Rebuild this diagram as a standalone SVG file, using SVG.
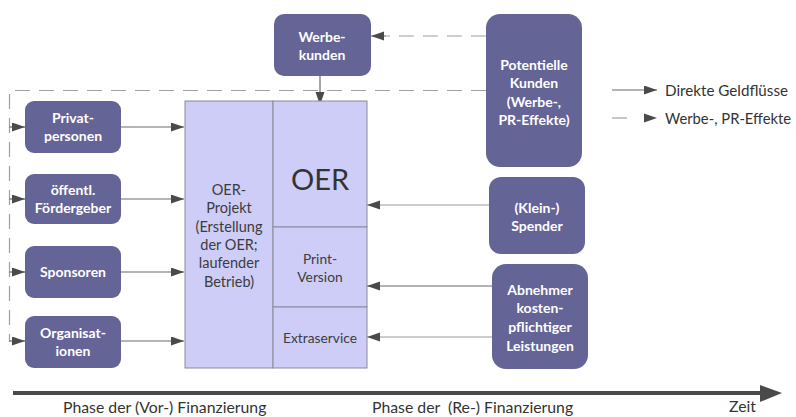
<svg xmlns="http://www.w3.org/2000/svg" width="796" height="417" viewBox="0 0 796 417">
<defs>
<style>
.box{fill:#656497;stroke:none}
.bt{font-family:Lato,"Open Sans","Liberation Sans",sans-serif;font-weight:bold;font-size:14px;fill:#ffffff;text-anchor:middle}
.lp{fill:#cdcdf8;stroke:#8a8a9a;stroke-width:1}
.lt{font-family:Lato,"Open Sans","Liberation Sans",sans-serif;font-size:14.5px;fill:#3c3c3c;text-anchor:middle}
.ct{font-family:Lato,"Open Sans","Liberation Sans",sans-serif;font-size:15.8px;fill:#333333}
.sol{fill:none;stroke:#6a6a6a;stroke-width:1.2;marker-end:url(#ah)}
.sol2{fill:none;stroke:#9a9a9a;stroke-width:1.2;marker-end:url(#ah)}
.dash{fill:none;stroke:#a0a0a0;stroke-width:1.2;stroke-dasharray:15 9}
</style>
<marker id="ah" markerUnits="userSpaceOnUse" markerWidth="14" markerHeight="10" refX="13" refY="4.5" orient="auto">
<path d="M0,0 L13,4.5 L0,9 z" fill="#4a4a4a"/>
</marker>
</defs>
<rect width="796" height="417" fill="#ffffff"/>

<g id="connectors">
<path class="dash" d="M486,90.5 H9.5 V342"/>
<path class="dash" d="M486,36 H384"/>
<path class="sol2" d="M386,36 H371"/>
<path class="sol" d="M9.5,127 H25"/>
<path class="sol" d="M9.5,199 H25"/>
<path class="sol" d="M9.5,272 H25"/>
<path class="sol" d="M9.5,341 H25"/>
<path class="sol" d="M121,127 H184"/>
<path class="sol" d="M121,199 H184"/>
<path class="sol" d="M121,272 H184"/>
<path class="sol" d="M121,341 H184"/>
<path class="sol" d="M320,76 V105"/>
<path class="sol2" d="M489,205 H367"/>
<path class="sol" d="M492,286 H367"/>
<path class="sol2" d="M492,337 H367"/>
</g>

<g id="oer-projekt">
<rect class="lp" x="185" y="101" width="88" height="267"/>
<text class="lt" x="229" y="195">OER-</text>
<text class="lt" x="229" y="213">Projekt</text>
<text class="lt" x="229" y="232">(Erstellung</text>
<text class="lt" x="229" y="250">der OER;</text>
<text class="lt" x="229" y="268">laufender</text>
<text class="lt" x="229" y="287">Betrieb)</text>
</g>
<g id="oer">
<rect class="lp" x="273" y="101" width="94" height="126"/>
<text class="lt" x="320" y="190" style="font-size:29px;fill:#333">OER</text>
</g>
<g id="print-version">
<rect class="lp" x="273" y="227" width="94" height="80"/>
<text class="lt" x="320" y="264" style="font-size:13.8px">Print-</text>
<text class="lt" x="320" y="282" style="font-size:13.8px">Version</text>
</g>
<g id="extraservice">
<rect class="lp" x="273" y="307" width="94" height="61"/>
<text class="lt" x="320" y="343" style="font-size:13.8px">Extraservice</text>
</g>

<g id="werbekunden">
<rect class="box" x="274" y="14" width="97" height="62" rx="10"/>
<text class="bt" x="322" y="42">Werbe-</text>
<text class="bt" x="322" y="60">kunden</text>
</g>
<g id="privatpersonen">
<rect class="box" x="25" y="101" width="96" height="52" rx="9"/>
<text class="bt" x="73" y="123">Privat-</text>
<text class="bt" x="73" y="141">personen</text>
</g>
<g id="foerdergeber">
<rect class="box" x="25" y="174" width="96" height="50" rx="9"/>
<text class="bt" x="73" y="195">öffentl.</text>
<text class="bt" x="73" y="213">Fördergeber</text>
</g>
<g id="sponsoren">
<rect class="box" x="25" y="246" width="96" height="52" rx="9"/>
<text class="bt" x="73" y="277">Sponsoren</text>
</g>
<g id="organisationen">
<rect class="box" x="25" y="316" width="96" height="52" rx="9"/>
<text class="bt" x="73" y="338">Organisat-</text>
<text class="bt" x="73" y="356">ionen</text>
</g>
<g id="potentielle-kunden">
<rect class="box" x="486" y="14" width="96" height="153" rx="14"/>
<text class="bt" x="534" y="70">Potentielle</text>
<text class="bt" x="534" y="88">Kunden</text>
<text class="bt" x="534" y="107">(Werbe-,</text>
<text class="bt" x="534" y="125">PR-Effekte)</text>
</g>
<g id="spender">
<rect class="box" x="489" y="177" width="96" height="77" rx="12"/>
<text class="bt" x="537" y="213">(Klein-)</text>
<text class="bt" x="537" y="231">Spender</text>
</g>
<g id="abnehmer">
<rect class="box" x="492" y="264" width="96" height="105" rx="14"/>
<text class="bt" x="540" y="295">Abnehmer</text>
<text class="bt" x="540" y="313">kosten-</text>
<text class="bt" x="540" y="332">pflichtiger</text>
<text class="bt" x="540" y="351">Leistungen</text>
</g>

<g id="legend">
<path class="sol" d="M612,90 H657"/>
<path fill="none" stroke="#a0a0a0" stroke-width="1.2" d="M612,118 H627"/>
<path d="M644,113.5 L657,118 L644,122.5 z" fill="#4a4a4a"/>
<text class="ct" x="665" y="96" style="font-size:15.2px" textLength="123" lengthAdjust="spacingAndGlyphs">Direkte Geldflüsse</text>
<text class="ct" x="665" y="124" style="font-size:15.2px" textLength="126" lengthAdjust="spacingAndGlyphs">Werbe-, PR-Effekte</text>
</g>

<g id="timeline">
<line x1="13" y1="393" x2="764" y2="393" stroke="#4a4a4a" stroke-width="4"/>
<polygon points="760,385 782,393 760,402" fill="#4a4a4a"/>
<text class="ct" x="63" y="413">Phase der (Vor-) Finanzierung</text>
<text class="ct" x="372" y="413" xml:space="preserve">Phase der  (Re-) Finanzierung</text>
<text class="ct" x="729" y="412">Zeit</text>
</g>
</svg>
